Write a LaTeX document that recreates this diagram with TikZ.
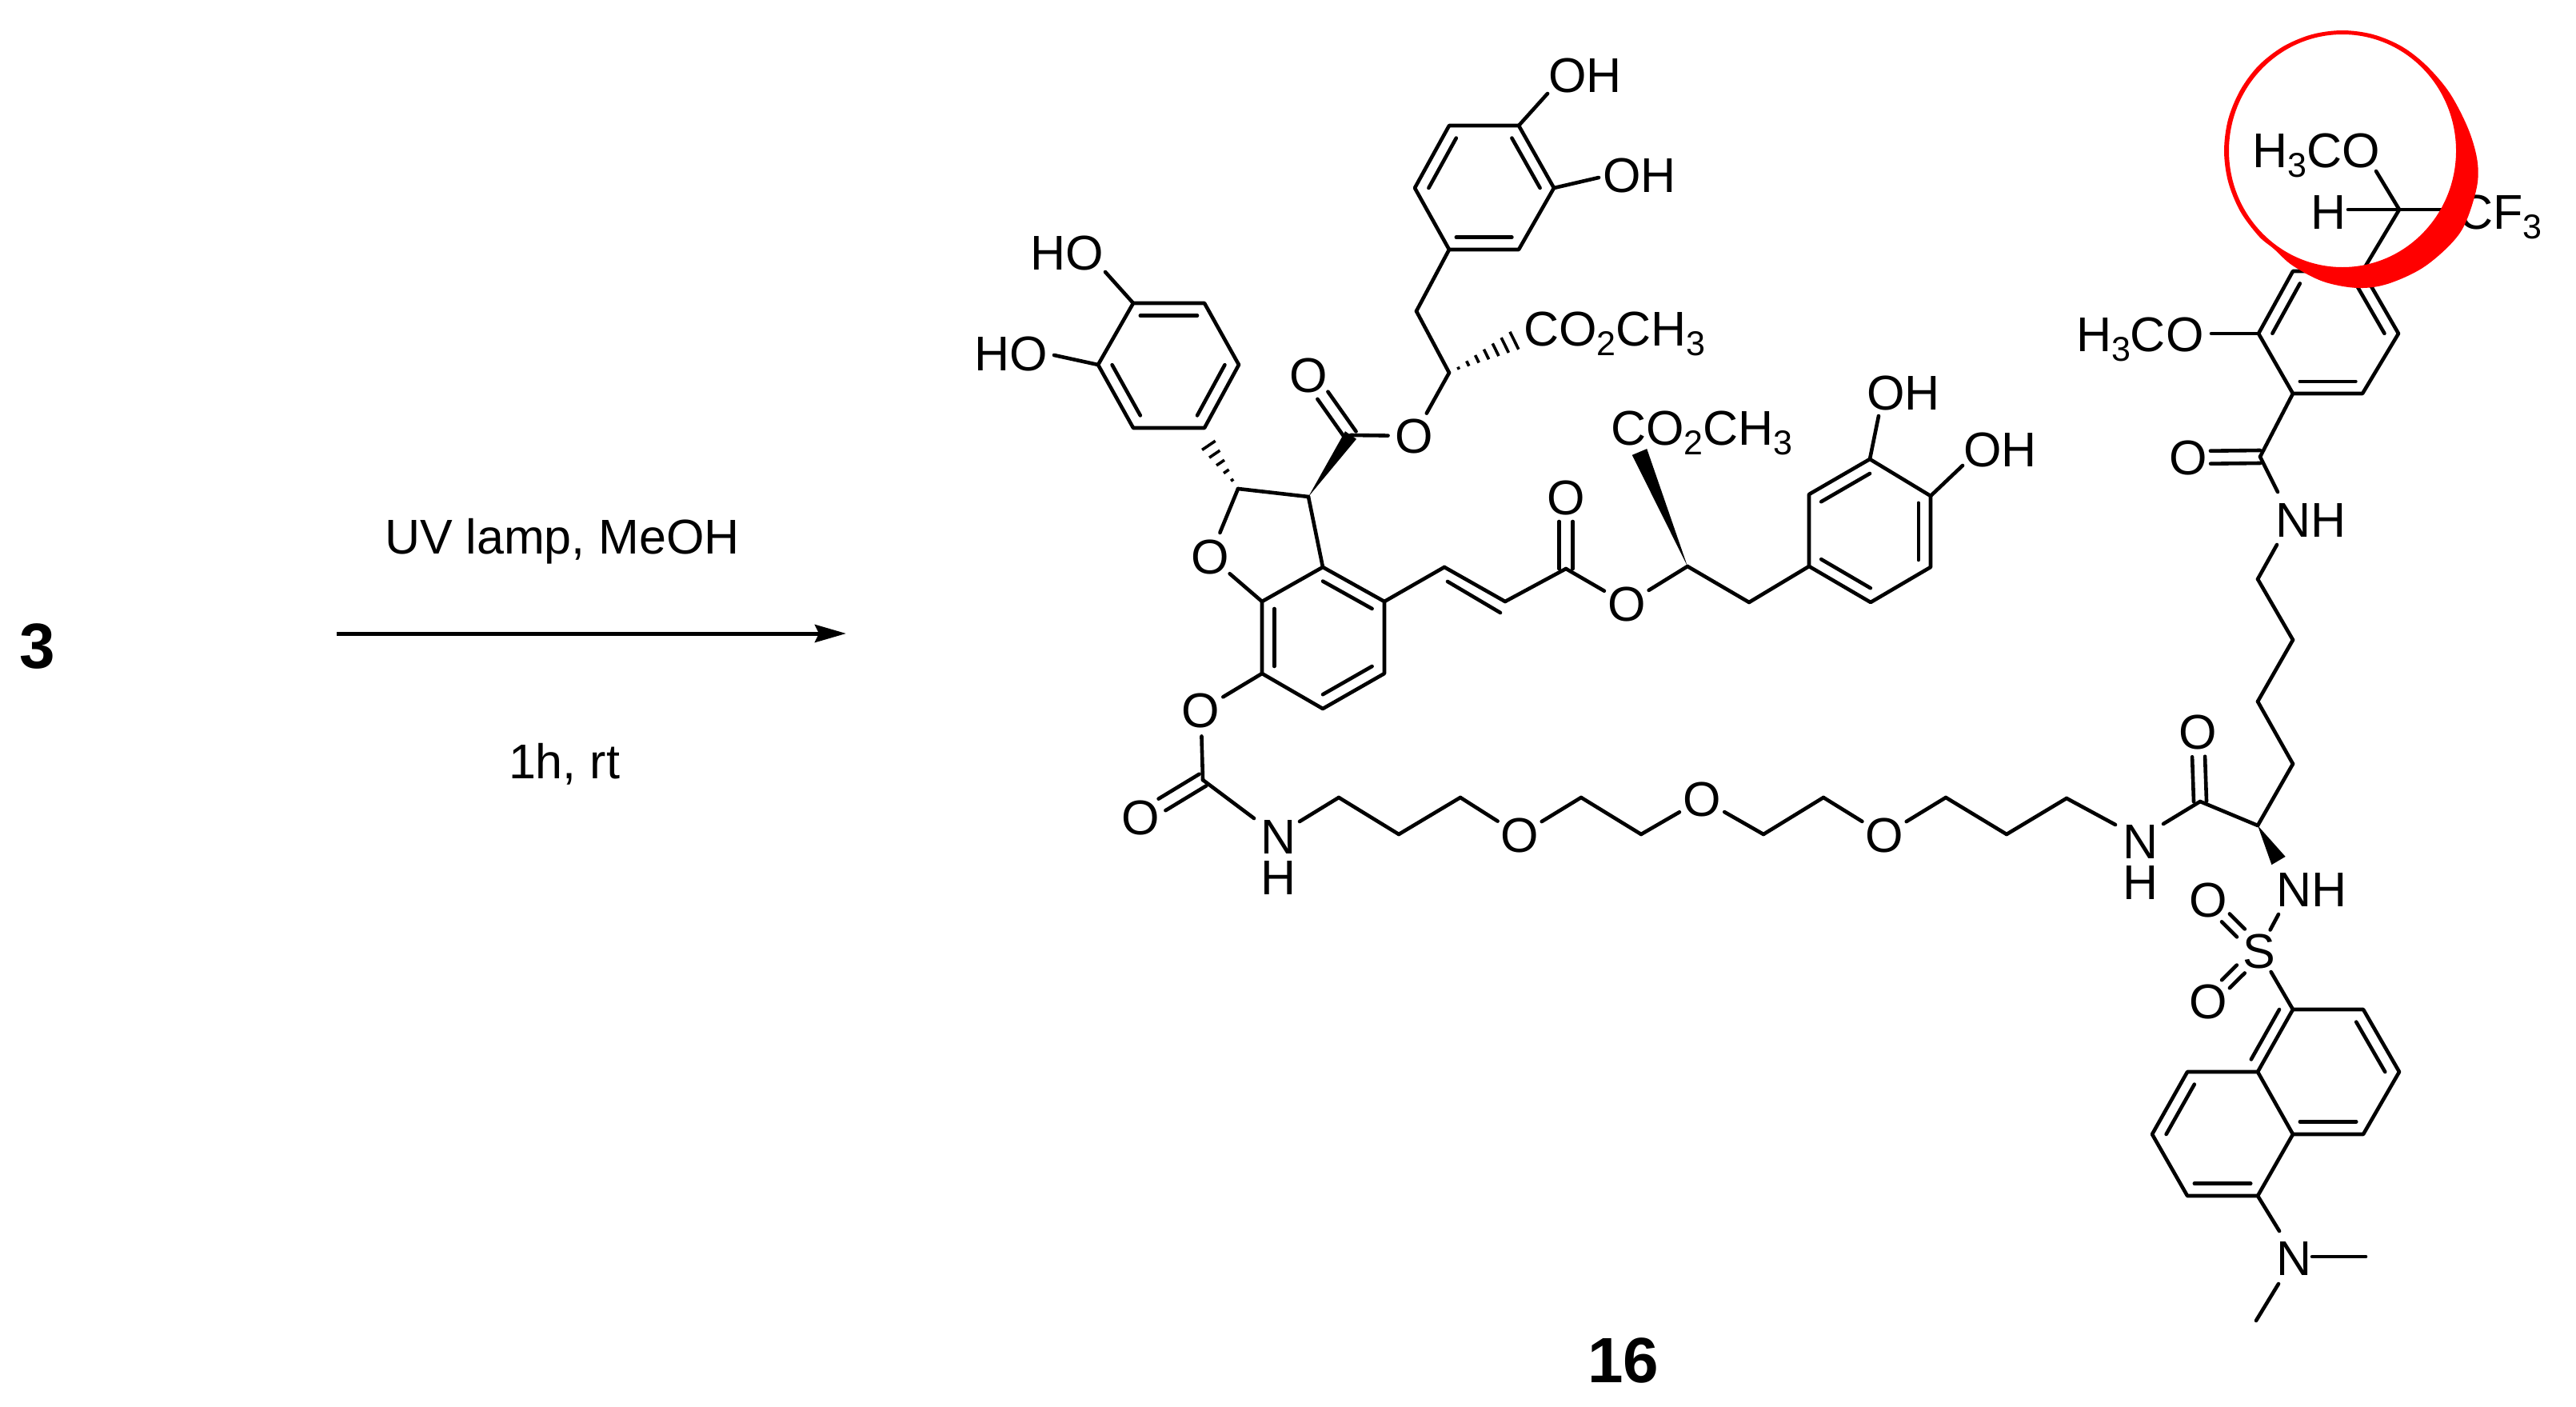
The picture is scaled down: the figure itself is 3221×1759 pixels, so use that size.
\documentclass[tikz,border=0pt]{standalone}
\usepackage{fontspec}
\setmainfont{Liberation Sans}
\usetikzlibrary{calc,arrows.meta}
\newcommand\subsc[1]{\raisebox{-12pt}{\fontsize{43}{43}\selectfont #1}}
\tikzset{
  bond/.style={line width=4.6pt,line cap=round,line join=round,black},
  lab/.style={anchor=base west,inner sep=0pt,outer sep=0pt,font=\fontsize{61}{72}\selectfont},
  atom/.style={circle,inner sep=0pt,outer sep=0.5pt,font=\fontsize{61}{72}\selectfont},
  cpd/.style={anchor=base west,inner sep=0pt,outer sep=0pt,font=\fontsize{80}{90}\selectfont\bfseries}
}
% inner line of an aromatic double bond, pulled towards centre #3
\newcommand\innerbond[3]{\draw[bond] ($(#1)!0.2!(#3)$) -- ($(#2)!0.2!(#3)$);}
% double bond: ends #1,#2, shortened by #3,#4, half separation #5
\newcommand\dblbond[5]{%
  \draw[bond] ($(#1)!#3!(#2)!#5!90:(#2)$) -- ($(#2)!#4!(#1)!#5!-90:(#1)$);
  \draw[bond] ($(#1)!#3!(#2)!#5!-90:(#2)$) -- ($(#2)!#4!(#1)!#5!90:(#1)$);}
\newcommand\wedgebond[3]{\fill ($(#1)$) -- ($(#2)!#3!90:(#1)$) -- ($(#2)!#3!-90:(#1)$) -- cycle;}
\newcommand\hashbond[4]{%
  \foreach \i in {1,...,#3}{%
    \pgfmathsetmacro\fr{\i/#3}\pgfmathsetmacro\hw{\fr*#4}%
    \draw[line width=3.6pt] ($(#1)!\fr!(#2)!\hw pt!90:(#2)$) -- ($(#1)!\fr!(#2)!\hw pt!-90:(#2)$);}}
\begin{document}
\begin{tikzpicture}[x=1pt,y=-1pt]
\useasboundingbox (0,0) rectangle (3221,1759);
% ---- atoms (named points)
\foreach \n/\x/\y in {
 a1/1812/157,a2/1899/157,a3/1943/235,a4/1899/312,a5/1812/312,a6/1769/235,ac/1856/235,
 ao1/1935/117,ao2/1999/222,ch2a/1771/389,csa/1812/466,hsa/1905/420,
 ce1/1689/544,c3/1636/621,c2/1548/611,
 b1/1506/535,b2/1417/535,b3/1373/456,b4/1417/379,b5/1506/379,b6/1549/456,bc/1461/457,
 bo1/1382/340,bo2/1318/444,hsb/1504/546,
 c7a/1578/752,c3a/1654/709,c4/1731/752,c5/1731/842,c6/1654/886,c7/1578/842,cc/1654/797,
 v1/1806/709,v2/1882/752,v1i/1810/727,v2i/1876/766,ce2/1958/711,
 csb/2110/708,ch2b/2187/753,wb/2050/565,
 r1/2262/708,r2/2262/618,r3/2338/574,r4/2414/620,r5/2414/709,r6/2339/753,rc/2338/664,
 ro1/2349/520,ro2/2454/582,
 cc1/1504/975,nc1/1568/1023,nc2/1625/1027,
 p1/1674/997,p2/1749/1043,p3/1826/997,p5/1977/997,p6/2052/1043,p8/2205/1043,p9/2280/997,
 p11/2433/997,p12/2509/1043,p13/2584/998,nd1/2645/1031,nd2/2705/1030,
 ca/2751/1002,cs/2823/1032,k1/2867/955,k2/2823/877,k3/2867/800,k4/2823/724,nu1/2847/681,nu2/2848/615,
 cam/2826/571,
 d1/2867/339,d2/2954/339,d3/2999/417,d4/2954/492,d5/2867/492,d6/2824/417,dc/2911/416,
 do/2765/417,q/3000/262,qo/2971/214,qh/2936/262,qf/3062/262,
 wc/2849/1076,ns1/2849/1143,
 n1/2867/1262,n2/2955/1262,n3/3000/1340,n4/2955/1418,n5/2867/1418,n6/2823/1340,
 n7/2735/1340,n8/2691/1418,n9/2735/1495,n10/2823/1495,nrc/2911/1340,nlc/2779/1418,nx/2782/1262,
 me0/2850/1539,me1/2891/1571,me2/2958/1571,me3/2849/1605,me4/2821/1651,
 arr1/421/792,arr2/1058/792}
  {\coordinate (\n) at (\x,\y);}

% ---- texts
\node[lab] (tUV) at (481,692) {UV lamp, MeOH};
\node[lab] (t1h) at (636,973) {1h, rt};
\node[cpd] (t3) at (24,835) {3};
\node[cpd] (t16) at (1985,1728) {16};

\node[lab] (tOHa) at (1936,115) {OH};
\node[lab] (tOHb) at (2004,240) {OH};
\node[lab] (tHOa) at (1288,337) {HO};
\node[lab] (tHOb) at (1218,463) {HO};
\node[lab] (tCOa) at (1905,432) {CO\subsc{2}CH\subsc{3}};
\node[lab] (tCOb) at (2014,556) {CO\subsc{2}CH\subsc{3}};
\node[lab] (tOHc) at (2334,512) {OH};
\node[lab] (tOHd) at (2455,583) {OH};
\node[lab] (tMeOa) at (2816,209) {H\subsc{3}CO};
\node[lab] (tH) at (2889,286) {H};
\node[lab] (tCF) at (3073,286) {CF\subsc{3}};
\node[lab] (tMeOb) at (2596,439) {H\subsc{3}CO};
\node[lab] (tNHa) at (2845,671) {NH};
\node[lab] (tNHb) at (2846,1133) {NH};
\node[lab] (tNc) at (2654,1073) {N};
\node[lab] (tHc) at (2654,1124) {H};
\node[lab] (tNd) at (1576,1067) {N};
\node[lab] (tHd) at (1576,1118) {H};
\node[atom] (Nm) at (2868,1573) {N};
\node[atom] (S) at (2824.5,1189) {S};

\node[atom] (O1) at (1768,545) {O};
\node[atom] (O2) at (1636,469) {O};
\node[atom] (O3) at (1513,696) {O};
\node[atom] (O4) at (1958,622) {O};
\node[atom] (O5) at (2034,755) {O};
\node[atom] (O6) at (1501.5,888) {O};
\node[atom] (O7) at (1426.5,1022) {O};
\node[atom] (O8) at (1900,1044) {O};
\node[atom] (O9) at (2128,999) {O};
\node[atom] (O10) at (2356,1044) {O};
\node[atom] (O11) at (2748,915) {O};
\node[atom] (O12) at (2761,1125.5) {O};
\node[atom] (O13) at (2761,1252) {O};
\node[atom] (O14) at (2736,572) {O};

% ---- rings
\draw[bond] (a1)--(a2)--(a3)--(a4)--(a5)--(a6)--cycle;
\innerbond{a1}{a6}{ac}\innerbond{a2}{a3}{ac}\innerbond{a4}{a5}{ac}
\draw[bond] (b1)--(b2)--(b3)--(b4)--(b5)--(b6)--cycle;
\innerbond{b4}{b5}{bc}\innerbond{b2}{b3}{bc}\innerbond{b1}{b6}{bc}
\draw[bond] (c7a)--(c3a)--(c4)--(c5)--(c6)--(c7)--cycle;
\innerbond{c7a}{c7}{cc}\innerbond{c3a}{c4}{cc}\innerbond{c5}{c6}{cc}
\draw[bond] (r1)--(r2)--(r3)--(r4)--(r5)--(r6)--cycle;
\innerbond{r2}{r3}{rc}\innerbond{r4}{r5}{rc}\innerbond{r1}{r6}{rc}
\draw[bond] (d1)--(d2)--(d3)--(d4)--(d5)--(d6)--cycle;
\innerbond{d1}{d6}{dc}\innerbond{d2}{d3}{dc}\innerbond{d4}{d5}{dc}
\draw[bond] (n1)--(n2)--(n3)--(n4)--(n5)--(n6)--cycle;
\draw[bond] (n6)--(n7)--(n8)--(n9)--(n10)--(n5);
\innerbond{n1}{n6}{nx}\innerbond{n2}{n3}{nrc}\innerbond{n4}{n5}{nrc}
\innerbond{n7}{n8}{nlc}\innerbond{n9}{n10}{nlc}

% ---- single bonds
\foreach \a/\b in {a2/ao1,a3/ao2,b4/bo1,b3/bo2,a5/ch2a,ch2a/csa,csa/O1,ce1/O1,
  c3/c2,c3/c3a,c2/O3,c7a/O3,c4/v1,v1/v2,v2/ce2,ce2/O5,O5/csb,csb/ch2b,ch2b/r1,
  r3/ro1,r4/ro2,c7/O6,O6/cc1,cc1/nc1,nc2/p1,p1/p2,p2/p3,p3/O8,O8/p5,p5/p6,p6/O9,O9/p8,p8/p9,p9/O10,
  O10/p11,p11/p12,p12/p13,p13/nd1,nd2/ca,ca/cs,cs/k1,k1/k2,k2/k3,k3/k4,k4/nu1,nu2/cam,cam/d5,
  d6/do,q/qo,q/qh,q/qf,q/d2,ns1/S,S/n1,n10/me0,me1/me2,me3/me4}
  {\draw[bond] (\a) -- (\b);}
\draw[bond] (v1i) -- (v2i);

% ---- double bonds to heteroatoms
\dblbond{ce1}{O2}{0pt}{31pt}{8pt}
\dblbond{ce2}{O4}{0pt}{30pt}{8.5pt}
\dblbond{cc1}{O7}{0pt}{31pt}{8.5pt}
\dblbond{ca}{O11}{0pt}{31pt}{8pt}
\dblbond{cam}{O14}{0pt}{28pt}{8pt}
\dblbond{S}{O12}{32pt}{31pt}{7pt}
\dblbond{S}{O13}{32pt}{31pt}{7pt}

% ---- stereo bonds
\wedgebond{c3}{ce1}{8.5pt}
\wedgebond{csb}{wb}{10pt}
\wedgebond{cs}{wc}{10pt}
\hashbond{csa}{hsa}{8}{14}
\hashbond{c2}{hsb}{6}{12}

% ---- reaction arrow
\draw[line width=5pt,-{Stealth[length=39pt,width=22pt,inset=5pt]}] (arr1) -- (arr2);

% ---- red ring, over the drawing
\fill[red,even odd rule]
  plot[smooth cycle,tension=0.55] coordinates {
    (3034,82) (3063.5,117) (3087,163) (3098,204) (3095.6,240) (3076,291)
    (3033.5,332) (2986.5,354.6) (2948,360) (2905,352) (2866.6,332) (2843,311)
    (2824,295) (2801,264) (2786,227) (2781,188.5) (2786,149.5) (2801,113) (2824,82)
    (2855,58) (2891,43) (2929,38) (2967,43) (3003,58)}
  (2929,188.5) ellipse [x radius=142,y radius=145.5];
\end{tikzpicture}
\end{document}
